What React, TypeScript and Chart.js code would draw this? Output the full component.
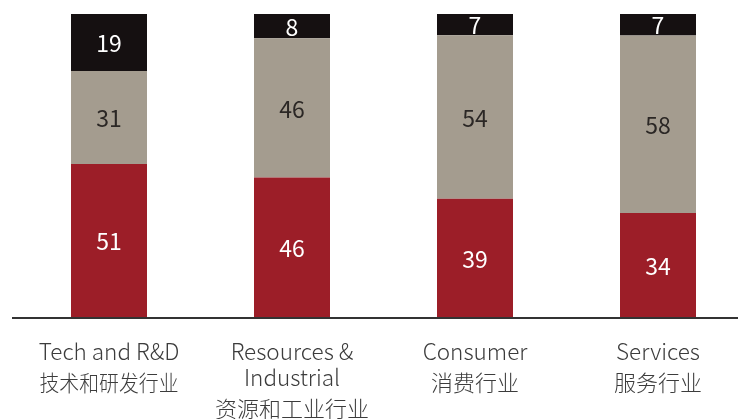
import React, { useEffect, useRef } from 'react';
import { Chart, registerables } from 'chart.js';

Chart.register(...registerables);

// ---- data ----
const categoriesEn: string[][] = [['Tech and R&D'], ['Resources &', 'Industrial'], ['Consumer'], ['Services']];
const categoriesZh: string[] = ['技术和研发行业', '资源和工业行业', '消费行业', '服务行业'];
const seriesRed: number[] = [51, 46, 39, 34];
const seriesGray: number[] = [31, 46, 54, 58];
const seriesBlack: number[] = [19, 8, 7, 7];

const COLORS = { red: '#9C1E28', gray: '#A49C8F', black: '#151011' };
const LABEL_COLORS = ['#FFFFFF', '#2B2725', '#FFFFFF'];
const FONT = '"Noto Sans CJK SC", "Noto Sans", sans-serif';
const ZH_MAX_WIDTH: (number | undefined)[] = [139, undefined, undefined, undefined];

const totals = seriesRed.map((v, i) => v + seriesGray[i] + seriesBlack[i]);
const norm = (arr: number[]) => arr.map((v, i) => (v / totals[i]) * 100);

const overlayPlugin = {
  id: 'overlay',
  afterDraw(chart: any) {
    const ctx = chart.ctx;
    const area = chart.chartArea;
    ctx.save();
    // axis line
    ctx.strokeStyle = '#333333';
    ctx.lineWidth = 2;
    ctx.beginPath();
    ctx.moveTo(12, 318);
    ctx.lineTo(chart.width, 318);
    ctx.stroke();

    // data labels (clipped to chart area)
    ctx.save();
    ctx.beginPath();
    ctx.rect(area.left, area.top, area.right - area.left, area.bottom - area.top);
    ctx.clip();
    ctx.font = `400 23px ${FONT}`;
    ctx.textAlign = 'center';
    ctx.textBaseline = 'middle';
    chart.data.datasets.forEach((ds: any, di: number) => {
      const meta = chart.getDatasetMeta(di);
      meta.data.forEach((el: any, i: number) => {
        const p = el.getProps(['x', 'y', 'base'], true);
        const cy = (p.y + p.base) / 2 + 1;
        ctx.fillStyle = LABEL_COLORS[di];
        ctx.fillText(String(ds.raw[i]), p.x, cy);
      });
    });
    ctx.restore();

    // category labels
    const meta0 = chart.getDatasetMeta(0);
    ctx.textAlign = 'center';
    ctx.fillStyle = '#3C3C3C';
    meta0.data.forEach((el: any, i: number) => {
      const x = el.getProps(['x'], true).x;
      const y = 360;
      ctx.font = `300 22.5px ${FONT}`;
      ctx.textBaseline = 'alphabetic';
      categoriesEn[i].forEach((line, li) => {
        ctx.fillText(line, x, y + li * 26);
      });
      const lastBase = y + (categoriesEn[i].length - 1) * 26;
      ctx.font = `300 22px ${FONT}`;
      ctx.textBaseline = 'middle';
      const mw = ZH_MAX_WIDTH[i];
      if (mw) ctx.fillText(categoriesZh[i], x, lastBase + 23, mw);
      else ctx.fillText(categoriesZh[i], x, lastBase + 23);
    });
    ctx.restore();
  },
};

export default function App() {
  const ref = useRef<HTMLCanvasElement | null>(null);
  useEffect(() => {
    if (!ref.current) return;
    const chart = new Chart(ref.current, {
      type: 'bar',
      data: {
        labels: categoriesZh,
        datasets: [
          { label: 'red', data: norm(seriesRed), raw: seriesRed, backgroundColor: COLORS.red } as any,
          { label: 'gray', data: norm(seriesGray), raw: seriesGray, backgroundColor: COLORS.gray } as any,
          { label: 'black', data: norm(seriesBlack), raw: seriesBlack, backgroundColor: COLORS.black } as any,
        ],
      },
      options: {
        responsive: false,
        animation: false,
        events: [],
        layout: { padding: { left: 17.5, right: 20.5, top: 14, bottom: 102 } },
        datasets: { bar: { barPercentage: 76 / 183, categoryPercentage: 1, borderWidth: 0 } },
        plugins: { legend: { display: false }, tooltip: { enabled: false } },
        scales: {
          x: { stacked: true, display: false },
          y: { stacked: true, display: false, min: 0, max: 100 },
        },
      },
      plugins: [overlayPlugin],
    });
    return () => chart.destroy();
  }, []);
  return (
    <div style={{ position: 'fixed', left: 0, top: 0, width: 738, height: 419, overflow: 'hidden', background: '#fff' }}>
      <canvas ref={ref} width={770} height={419} style={{ display: 'block' }} />
    </div>
  );
}
